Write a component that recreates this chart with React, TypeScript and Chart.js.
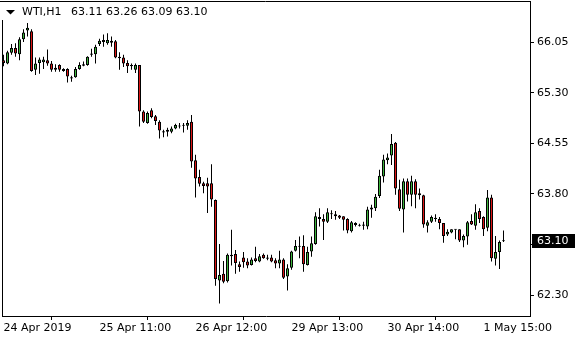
import React, { useEffect, useRef } from 'react';
import { Chart, registerables } from 'chart.js';

Chart.register(...registerables);

const symbolLabel = 'WTI,H1';
const headerPrices = '63.11 63.26 63.09 63.10';
const lastPrice = 63.1;

const opens = [
  65.78, 65.73, 65.89, 65.96, 65.87, 66.09, 66.22, 66.21, 65.64, 65.74,
  65.75, 65.78, 65.73, 65.67, 65.71, 65.65, 65.65, 65.53, 65.53, 65.65,
  65.70, 65.71, 65.86, 65.87, 66.02, 66.05, 66.03, 66.07, 66.06, 65.81,
  65.82, 65.74, 65.69, 65.64, 65.71, 65.02, 64.85, 65.04, 64.95, 64.87,
  64.73, 64.72, 64.72, 64.77, 64.80, 64.81, 64.81, 64.87, 64.30, 64.05,
  63.96, 63.96, 63.96, 63.71, 62.52, 62.62, 62.51, 62.90, 62.91, 62.76,
  62.86, 62.80, 62.75, 62.85, 62.80, 62.90, 62.86, 62.86, 62.82, 62.77,
  62.83, 62.58, 62.71, 62.96, 63.02, 63.03, 62.75, 62.95, 63.06, 63.46,
  63.43, 63.39, 63.50, 63.50, 63.48, 63.47, 63.43, 63.25, 63.34, 63.34,
  63.33, 63.32, 63.57, 63.59, 63.77, 64.06, 64.30, 64.37, 64.56, 63.87,
  63.57, 63.99, 63.79, 63.99, 63.81, 63.78, 63.33, 63.39, 63.45, 63.43,
  63.37, 63.20, 63.23, 63.28, 63.28, 63.11, 63.17, 63.40, 63.33, 63.55,
  63.46, 63.30, 63.75, 62.84, 62.94, 63.11,
];
const highs = [
  65.86, 65.92, 66.02, 66.03, 66.12, 66.24, 66.33, 66.24, 65.82, 65.82,
  65.83, 65.94, 65.77, 65.72, 65.72, 65.66, 65.66, 65.55, 65.68, 65.75,
  65.76, 65.84, 65.95, 66.01, 66.10, 66.16, 66.18, 66.13, 66.08, 65.90,
  65.86, 65.78, 65.73, 65.73, 65.71, 65.04, 65.02, 65.07, 64.97, 64.89,
  64.75, 64.78, 64.80, 64.84, 64.85, 64.85, 64.89, 64.97, 64.38, 64.16,
  63.98, 64.04, 64.24, 63.72, 63.06, 62.81, 62.92, 63.27, 62.97, 62.80,
  62.94, 62.85, 62.86, 63.02, 62.91, 62.92, 62.90, 62.90, 62.85, 62.96,
  62.85, 62.76, 62.96, 63.12, 63.17, 63.19, 63.02, 63.17, 63.53, 63.59,
  63.50, 63.59, 63.56, 63.55, 63.49, 63.47, 63.44, 63.40, 63.38, 63.36,
  63.39, 63.61, 63.64, 63.80, 64.16, 64.38, 64.40, 64.69, 64.57, 64.01,
  64.03, 64.03, 64.07, 64.02, 63.88, 63.79, 63.41, 63.48, 63.50, 63.46,
  63.37, 63.28, 63.28, 63.28, 63.28, 63.20, 63.40, 63.50, 63.65, 63.59,
  63.47, 63.86, 63.79, 63.18, 63.11, 63.26,
];
const lows = [
  65.69, 65.72, 65.86, 65.83, 65.78, 66.05, 66.13, 65.61, 65.56, 65.58,
  65.65, 65.70, 65.61, 65.61, 65.61, 65.61, 65.45, 65.46, 65.52, 65.64,
  65.69, 65.70, 65.83, 65.73, 65.99, 65.98, 66.01, 65.98, 65.81, 65.64,
  65.68, 65.59, 65.64, 65.59, 64.80, 64.85, 64.84, 64.92, 64.82, 64.62,
  64.64, 64.65, 64.70, 64.76, 64.77, 64.71, 64.75, 64.19, 63.75, 63.91,
  63.81, 63.52, 63.61, 62.44, 62.18, 62.48, 62.49, 62.74, 62.62, 62.65,
  62.71, 62.70, 62.74, 62.79, 62.79, 62.84, 62.82, 62.79, 62.70, 62.70,
  62.54, 62.37, 62.68, 62.95, 62.85, 62.65, 62.74, 62.87, 63.05, 63.32,
  63.12, 63.37, 63.43, 63.42, 63.43, 63.26, 63.22, 63.23, 63.32, 63.32,
  63.27, 63.28, 63.45, 63.55, 63.74, 63.97, 64.24, 64.23, 63.79, 63.55,
  63.23, 63.69, 63.62, 63.59, 63.72, 63.30, 63.23, 63.37, 63.39, 63.28,
  63.08, 63.18, 63.22, 63.13, 63.09, 63.01, 63.05, 63.34, 63.27, 63.37,
  63.18, 63.25, 62.80, 62.74, 62.69, 63.09,
];
const closes = [
  65.74, 65.90, 65.96, 65.88, 66.09, 66.19, 66.26, 65.62, 65.73, 65.79,
  65.79, 65.73, 65.64, 65.64, 65.64, 65.62, 65.54, 65.51, 65.65, 65.71,
  65.72, 65.83, 65.88, 65.98, 66.07, 66.08, 66.08, 66.04, 65.82, 65.83,
  65.73, 65.69, 65.71, 65.71, 65.02, 64.87, 65.00, 64.94, 64.88, 64.74,
  64.71, 64.75, 64.77, 64.82, 64.81, 64.82, 64.85, 64.28, 64.03, 63.95,
  63.92, 63.91, 63.72, 62.54, 62.60, 62.50, 62.90, 62.88, 62.78, 62.72,
  62.79, 62.74, 62.83, 62.81, 62.88, 62.85, 62.84, 62.80, 62.77, 62.83,
  62.56, 62.70, 62.95, 63.03, 63.03, 62.76, 62.94, 63.07, 63.47, 63.43,
  63.39, 63.53, 63.51, 63.47, 63.45, 63.42, 63.26, 63.38, 63.37, 63.33,
  63.35, 63.57, 63.60, 63.76, 64.07, 64.31, 64.34, 64.54, 63.88, 63.58,
  63.99, 63.79, 63.99, 63.79, 63.78, 63.35, 63.38, 63.46, 63.43, 63.37,
  63.18, 63.24, 63.28, 63.27, 63.11, 63.18, 63.38, 63.35, 63.53, 63.43,
  63.28, 63.75, 62.85, 62.94, 63.09, 63.10,
];

const timeTickIndex = [0, 24, 48, 72, 96, 120];
const timeTickLabels = ['24 Apr 2019', '25 Apr 11:00', '26 Apr 12:00', '29 Apr 13:00', '30 Apr 14:00', '1 May 15:00'];
const priceTicks = [66.05, 65.3, 64.55, 63.8, 63.05, 62.3];

const X_MIN = -0.375;
const X_MAX = 131.625;
const Y_MIN = 61.994;
const Y_MAX = 66.657;

const BULL = '#3cb43c';
const BEAR = '#dc1414';
const FONT = 'DejaVu Sans';

const mtPlugin = {
  id: 'mtOverlay',
  afterDraw(chart: any) {
    const { ctx, chartArea } = chart;
    ctx.save();
    // frame (left & top)
    ctx.strokeStyle = '#000';
    ctx.lineWidth = 1;
    ctx.beginPath();
    ctx.moveTo(0, chartArea.top + 0.5);
    ctx.lineTo(chartArea.right + 1, chartArea.top + 0.5);
    ctx.moveTo(chartArea.left + 0.5, chartArea.top);
    ctx.lineTo(chartArea.left + 0.5, chartArea.bottom + 1);
    ctx.stroke();

    // header
    ctx.font = `11px "${FONT}"`;
    ctx.fillStyle = '#fff';
    ctx.fillRect(0, chartArea.top + 1, 214, 18);
    ctx.fillStyle = '#000';
    ctx.beginPath();
    ctx.moveTo(6, 10);
    ctx.lineTo(15, 10);
    ctx.lineTo(10.5, 14.5);
    ctx.closePath();
    ctx.fill();
    ctx.textBaseline = 'middle';
    ctx.textAlign = 'left';
    ctx.fillText(symbolLabel, 22, 12.5);
    ctx.fillText(headerPrices, 71, 12.5);

    // last price marker
    const py = Math.round(chart.scales.y.getPixelForValue(lastPrice));
    ctx.fillStyle = '#000';
    ctx.fillRect(532, py - 7, 43, 14);
    ctx.fillStyle = '#fff';
    ctx.fillText(lastPrice.toFixed(2), 537, py + 0.5);
    ctx.restore();
  },
};

export default function App() {
  const ref = useRef<HTMLCanvasElement | null>(null);

  useEffect(() => {
    if (!ref.current) return;
    const bodies = opens.map((o, i) => ({ x: i, y: [o, closes[i]] }));
    const wicks = lows.map((l, i) => ({ x: i, y: [l, highs[i]] }));
    const bodyColors = opens.map((o, i) => (closes[i] >= o ? BULL : BEAR));

    const chart = new Chart(ref.current, {
      type: 'bar',
      data: {
        datasets: [
          {
            data: bodies as any,
            backgroundColor: bodyColors,
            borderColor: '#000',
            borderWidth: 1,
            borderSkipped: false,
            inflateAmount: 0,
            barPercentage: 0.75,
            categoryPercentage: 1,
            maxBarThickness: 3,
            minBarLength: 1,
            grouped: false,
          } as any,
          {
            data: wicks as any,
            backgroundColor: '#000',
            borderWidth: 0,
            inflateAmount: 0,
            barPercentage: 0.25,
            categoryPercentage: 1,
            maxBarThickness: 1,
            grouped: false,
          } as any,
        ],
      },
      options: {
        animation: false,
        responsive: false,
        maintainAspectRatio: false,
        layout: { padding: { left: 2, top: 1, right: 0, bottom: 0 }, autoPadding: false } as any,
        plugins: {
          legend: { display: false },
          tooltip: { enabled: false },
          title: { display: false },
        },
        scales: {
          x: {
            type: 'linear',
            min: X_MIN,
            max: X_MAX,
            offset: false,
            grid: { drawOnChartArea: false, drawTicks: true, tickLength: 4, color: '#000', lineWidth: 1 },
            border: { display: true, color: '#000', width: 1 },
            ticks: {
              autoSkip: false,
              maxRotation: 0,
              minRotation: 0,
              align: 'start',
              padding: 2,
              color: '#000',
              font: { family: FONT, size: 11 },
              callback: (v: any) => {
                const k = timeTickIndex.indexOf(Number(v));
                return k >= 0 ? timeTickLabels[k] : '';
              },
            },
            afterBuildTicks: (s: any) => {
              s.ticks = timeTickIndex.map((v) => ({ value: v }));
            },
            afterFit: (s: any) => {
              s.height = 24;
              s.paddingLeft = 0;
              s.paddingRight = 0;
            },
          } as any,
          y: {
            type: 'linear',
            position: 'right',
            min: Y_MIN,
            max: Y_MAX,
            grid: { drawOnChartArea: false, drawTicks: true, tickLength: 4, color: '#000', lineWidth: 1 },
            border: { display: true, color: '#000', width: 1 },
            ticks: {
              padding: 3,
              color: '#000',
              font: { family: FONT, size: 11 },
              callback: (v: any) => Number(v).toFixed(2),
            },
            afterBuildTicks: (s: any) => {
              s.ticks = priceTicks.map((v) => ({ value: v }));
            },
            afterFit: (s: any) => {
              s.width = 50;
              s.paddingTop = 0;
              s.paddingBottom = 0;
            },
          } as any,
        },
      },
      plugins: [mtPlugin],
    });
    return () => chart.destroy();
  }, []);

  return (
    <div style={{ position: 'fixed', left: 0, top: 0, width: 580, height: 340, background: '#fff' }}>
      <canvas ref={ref} width={580} height={340} style={{ display: 'block', width: 580, height: 340 }} />
    </div>
  );
}
